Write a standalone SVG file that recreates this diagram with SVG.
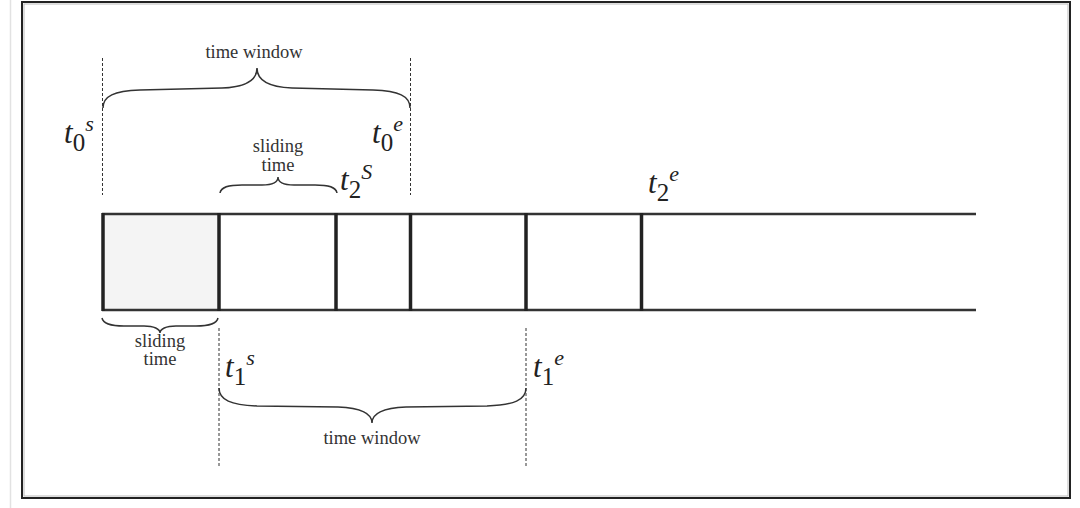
<svg xmlns="http://www.w3.org/2000/svg" width="1080" height="508" viewBox="0 0 1080 508">
<style>
.lbl{font-family:"Liberation Serif","Times New Roman",serif;font-size:18.5px;fill:#333;text-anchor:middle}
.t{font-family:"Liberation Serif","Times New Roman",serif;font-style:italic;font-size:31px;fill:#222}
.sub{font-family:"Liberation Serif","Times New Roman",serif;font-style:normal;font-size:25px}
.sup{font-family:"Liberation Serif","Times New Roman",serif;font-style:italic;font-size:22px}
.dash{stroke:#333;stroke-width:1;stroke-dasharray:3 2;fill:none}
.brace{stroke:#333;stroke-width:1.5;fill:none}
.hl{stroke:#333;stroke-width:2.5;fill:none}
.vl{stroke:#222;stroke-width:3.5;fill:none}
</style>
<rect width="1080" height="508" fill="#fff"/>
<line x1="10.5" y1="0" x2="10.5" y2="508" stroke="#e2e2e2" stroke-width="1.5"/>
<rect x="22" y="2" width="1048" height="496" fill="none" stroke="#222" stroke-width="2"/>
<rect x="24" y="4" width="1044" height="492" fill="none" stroke="#bbb" stroke-width="1"/>

<g id="bar">
<rect x="103" y="214" width="116" height="96" fill="#f4f4f4"/>
<line class="hl" x1="102" y1="214" x2="976" y2="214"/>
<line class="hl" x1="102" y1="310" x2="976" y2="310"/>
<line class="vl" x1="103" y1="213" x2="103" y2="311"/>
<line class="vl" x1="219" y1="213" x2="219" y2="311"/>
<line class="vl" x1="336" y1="213" x2="336" y2="311"/>
<line class="vl" x1="410.5" y1="213" x2="410.5" y2="311"/>
<line class="vl" x1="526" y1="213" x2="526" y2="311"/>
<line class="vl" x1="641.5" y1="213" x2="641.5" y2="311"/>
</g>

<g id="connectors">
<line class="dash" x1="102.5" y1="58" x2="102.5" y2="195"/>
<line class="dash" x1="410.5" y1="58" x2="410.5" y2="195"/>
<line class="dash" x1="219" y1="328" x2="219" y2="466"/>
<line class="dash" x1="526" y1="328" x2="526" y2="466"/>
<path class="brace" d="M103,108 C103,96 114,91 140,90 L222,88 C246,87 257,80 257,68 C257,80 268,87 292,88 L373,90 C399,91 410,96 410,108"/>
<path class="brace" d="M220,193 C221,187 228,185 242,185 L262,185 C272,185 278,182 278,177 C278,182 284,185 294,185 L315,185 C329,185 336,187 337,193"/>
<path class="brace" d="M102,318 C103,323 110,326 124,326 L144,326 C154,326 160,329 160,333 C160,329 166,326 176,326 L196,326 C210,326 217,323 218,318"/>
<path class="brace" d="M219,388 C219,400 231,405 257,406 L338,407 C362,408 372,414 372,423 C372,414 382,408 406,407 L487,406 C514,405 526,400 526,388"/>
</g>

<g id="time-window-top"><text class="lbl" x="254" y="58">time window</text></g>
<g id="sliding-top"><text class="lbl" x="278" y="152">sliding</text><text class="lbl" x="278" y="171">time</text></g>
<g id="sliding-bottom"><text class="lbl" x="160" y="347">sliding</text><text class="lbl" x="160" y="365">time</text></g>
<g id="time-window-bottom"><text class="lbl" x="372" y="444">time window</text></g>

<g id="t0s"><text class="t" x="64" y="143">t<tspan class="sub" dy="8">0</tspan><tspan class="sup" dy="-20">s</tspan></text></g>
<g id="t0e"><text class="t" x="372" y="143">t<tspan class="sub" dy="8">0</tspan><tspan class="sup" dy="-20">e</tspan></text></g>
<g id="t2s"><text class="t" x="340" y="190">t<tspan class="sub" dy="8">2</tspan><tspan class="sup" dy="-19" font-size="23">S</tspan></text></g>
<g id="t2e"><text class="t" x="648" y="193">t<tspan class="sub" dy="8">2</tspan><tspan class="sup" dy="-20">e</tspan></text></g>
<g id="t1s"><text class="t" x="225" y="377">t<tspan class="sub" dy="8">1</tspan><tspan class="sup" dy="-20">s</tspan></text></g>
<g id="t1e"><text class="t" x="533" y="377">t<tspan class="sub" dy="8">1</tspan><tspan class="sup" dy="-20">e</tspan></text></g>
</svg>
